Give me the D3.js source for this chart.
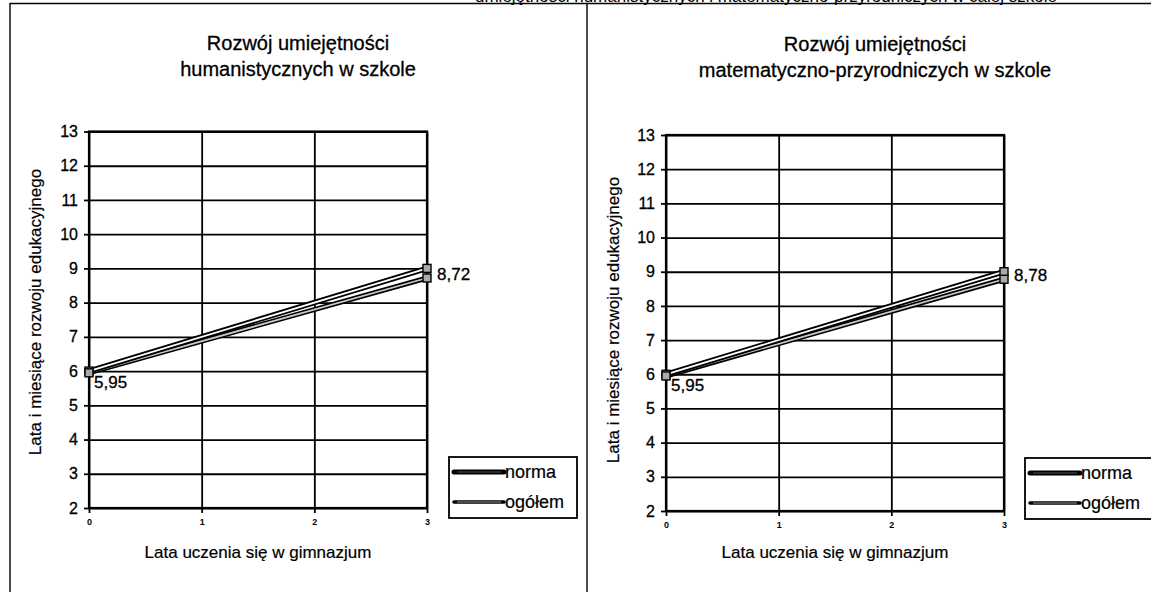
<!DOCTYPE html>
<html>
<head>
<meta charset="utf-8">
<script src="https://cdn.jsdelivr.net/npm/d3@7"></script>
<style>
  html, body { margin: 0; padding: 0; background: #fff; }
  svg { display: block; font-family: "Liberation Sans", Arial, sans-serif; }
</style>
</head>
<body>
<svg id="chart" width="1151" height="592"></svg>
<script>
// ---------- data ----------
const years = [0, 3];
const normaValues = [6, 9];
const humanOgolem = [5.95, 8.72];
const mathOgolem = [5.95, 8.78];
const yTickValues = [2, 3, 4, 5, 6, 7, 8, 9, 10, 11, 12, 13];
const xTickValues = [0, 1, 2, 3];
const seriesNames = ["norma", "ogółem"];
const humanTitle = ["Rozwój umiejętności", "humanistycznych w szkole"];
const mathTitle = ["Rozwój umiejętności", "matematyczno-przyrodniczych w szkole"];
const yAxisTitle = "Lata i miesiące rozwoju edukacyjnego";
const xAxisTitle = "Lata uczenia się w gimnazjum";
const captionText = "umiejętności humanistycznych i matematyczno-przyrodniczych w całej szkole";

// ---------- layout ----------
const svg = d3.select("#chart");

// page frame lines (scanned document)
svg.append("line").attr("x1", 10).attr("x2", 1151).attr("y1", 3.5).attr("y2", 3.5)
  .attr("stroke", "#000").attr("stroke-width", 1.6);
svg.append("line").attr("x1", 10).attr("x2", 10).attr("y1", 3).attr("y2", 592)
  .attr("stroke", "#000").attr("stroke-width", 1.4);
svg.append("line").attr("x1", 587).attr("x2", 587).attr("y1", 3).attr("y2", 592)
  .attr("stroke", "#000").attr("stroke-width", 1.4);
// cut-off caption above the frame (only its lower edge is visible in the scan)
svg.append("text").attr("x", 1057).attr("y", 2).attr("text-anchor", "end")
  .attr("font-size", 17).text(captionText);

const panels = [
  { title: humanTitle, ogolem: humanOgolem, x0: 89, x1: 427, yTop: 131.5, yBot: 508,
    titleX: 298, titleY: 50, yTitleX: 35, yTitleY: 312, legendX: 449, legendY: 457, legendW: 128 },
  { title: mathTitle, ogolem: mathOgolem, x0: 666, x1: 1004, yTop: 135, yBot: 511,
    titleX: 875, titleY: 51, yTitleX: 613, yTitleY: 320, legendX: 1025, legendY: 458, legendW: 140 }
];

panels.forEach(p => {
  const g = svg.append("g");
  const x = d3.scaleLinear().domain([0, 3]).range([p.x0, p.x1]);
  const y = d3.scaleLinear().domain([2, 13]).range([p.yBot, p.yTop]);
  const w = p.x1 - p.x0, h = p.yBot - p.yTop;

  // title
  p.title.forEach((t, i) => {
    g.append("text").attr("x", p.titleX).attr("y", p.titleY + i * 26)
      .attr("text-anchor", "middle").attr("font-size", 20)
      .attr("stroke", "#000").attr("stroke-width", 0.3).text(t);
  });

  // horizontal gridlines
  g.append("g").attr("transform", `translate(${p.x0},0)`)
    .call(d3.axisLeft(y).tickValues(yTickValues).tickSize(-w).tickFormat(""))
    .call(s => s.select(".domain").remove())
    .call(s => s.selectAll("line").attr("stroke", "#000").attr("stroke-width", 1.8));
  // vertical gridlines
  g.append("g").attr("transform", `translate(0,${p.yBot})`)
    .call(d3.axisBottom(x).tickValues(xTickValues).tickSize(-h).tickFormat(""))
    .call(s => s.select(".domain").remove())
    .call(s => s.selectAll("line").attr("stroke", "#000").attr("stroke-width", 1.8));

  // plot border
  g.append("rect").attr("x", p.x0).attr("y", p.yTop).attr("width", w).attr("height", h)
    .attr("fill", "none").attr("stroke", "#000").attr("stroke-width", 2.2);

  // y axis ticks + labels
  g.append("g").attr("transform", `translate(${p.x0},0)`)
    .call(d3.axisLeft(y).tickValues(yTickValues).tickSize(5).tickPadding(6).tickFormat(d3.format("d")))
    .call(s => s.select(".domain").remove())
    .call(s => s.selectAll("line").attr("stroke", "#000").attr("stroke-width", 1.8))
    .call(s => s.selectAll("text").attr("font-size", 16).attr("fill", "#000")
      .attr("stroke", "#000").attr("stroke-width", 0.3)
      .attr("font-family", "Liberation Sans, Arial, sans-serif"));

  // x axis ticks + tiny labels
  g.append("g").attr("transform", `translate(0,${p.yBot})`)
    .call(d3.axisBottom(x).tickValues(xTickValues).tickSize(5).tickPadding(6).tickFormat(d3.format("d")))
    .call(s => s.select(".domain").remove())
    .call(s => s.selectAll("line").attr("stroke", "#000").attr("stroke-width", 1.8))
    .call(s => s.selectAll("text").attr("font-size", 9).attr("font-weight", "bold").attr("fill", "#000")
      .attr("font-family", "Liberation Sans, Arial, sans-serif"));

  // axis titles
  g.append("text").attr("x", (p.x0 + p.x1) / 2).attr("y", 558)
    .attr("text-anchor", "middle").attr("font-size", 17)
    .attr("stroke", "#000").attr("stroke-width", 0.2).text(xAxisTitle);
  g.append("text").attr("transform", `translate(${p.yTitleX},${p.yTitleY}) rotate(-90)`)
    .attr("text-anchor", "middle").attr("dy", "0.35em").attr("font-size", 17)
    .attr("stroke", "#000").attr("stroke-width", 0.2).text(yAxisTitle);

  // series lines (double-line look of the print)
  const line = d3.line().x(d => x(d[0])).y(d => y(d[1]));
  const normaPts = years.map((yr, i) => [yr, normaValues[i]]);
  const ogolemPts = years.map((yr, i) => [yr, p.ogolem[i]]);
  g.append("path").datum(ogolemPts).attr("d", line).attr("fill", "none")
    .attr("stroke", "#000").attr("stroke-width", 5);
  g.append("path").datum(ogolemPts).attr("d", line).attr("fill", "none")
    .attr("stroke", "#c8c8c8").attr("stroke-width", 1.8);
  g.append("path").datum(normaPts).attr("d", line).attr("fill", "none")
    .attr("stroke", "#000").attr("stroke-width", 5.5);
  g.append("path").datum(normaPts).attr("d", line).attr("fill", "none")
    .attr("stroke", "#fff").attr("stroke-width", 1.8);

  // markers
  [normaPts, ogolemPts].forEach(pts => {
    g.selectAll(null).data(pts).enter().append("rect")
      .attr("x", d => x(d[0]) - 4).attr("y", d => y(d[1]) - 4)
      .attr("width", 8).attr("height", 8)
      .attr("fill", "#aaa").attr("stroke", "#000").attr("stroke-width", 1.4);
  });

  // data labels
  const fmt = v => d3.format(".2f")(v).replace(".", ",");
  g.append("text").attr("x", x(years[0]) + 5).attr("y", y(p.ogolem[0]) + 15)
    .attr("font-size", 17).attr("stroke", "#000").attr("stroke-width", 0.3).text(fmt(p.ogolem[0]));
  g.append("text").attr("x", x(years[1]) + 10).attr("y", y(p.ogolem[1]) + 2)
    .attr("font-size", 17).attr("stroke", "#000").attr("stroke-width", 0.3).text(fmt(p.ogolem[1]));

  // legend
  const lg = g.append("g").attr("transform", `translate(${p.legendX},${p.legendY})`);
  lg.append("rect").attr("width", p.legendW).attr("height", 61)
    .attr("fill", "#fff").attr("stroke", "#000").attr("stroke-width", 1.8);
  seriesNames.forEach((name, i) => {
    const yy = 15 + i * 30;
    lg.append("line").attr("x1", 5).attr("x2", 55).attr("y1", yy).attr("y2", yy)
      .attr("stroke", "#000").attr("stroke-width", i === 0 ? 5 : 3.5).attr("stroke-linecap", "round");
    lg.append("line").attr("x1", 8).attr("x2", 52).attr("y1", yy).attr("y2", yy)
      .attr("stroke", i === 0 ? "#555" : "#999").attr("stroke-width", 1);
    lg.append("text").attr("x", 56).attr("y", yy).attr("dy", "0.35em")
      .attr("font-size", 18).attr("stroke", "#000").attr("stroke-width", 0.2).text(name);
  });
});
</script>
</body>
</html>
